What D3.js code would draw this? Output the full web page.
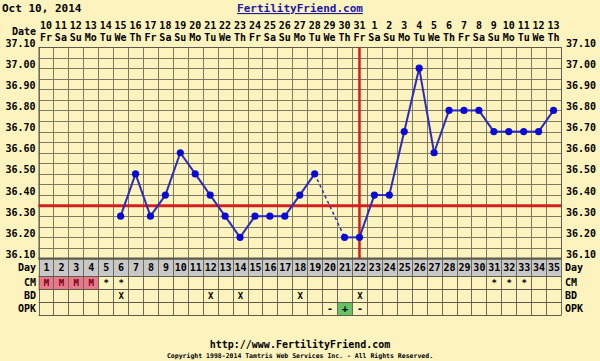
<!DOCTYPE html>
<html><head><meta charset="utf-8">
<script src="https://cdn.jsdelivr.net/npm/d3@7"></script>
<style>
body{margin:0;background:#FDF3BE;}
svg{display:block;}
text{font-family:"DejaVu Sans Mono",monospace;font-weight:bold;}
</style></head><body>
<script>
const dayNums = ["10","11","12","13","14","15","16","17","18","19","20","21","22","23","24","25","26","27","28","29","30","31","1","2","3","4","5","6","7","8","9","10","11","12","13"];
const weekdays = ["Fr","Sa","Su","Mo","Tu","We","Th","Fr","Sa","Su","Mo","Tu","We","Th","Fr","Sa","Su","Mo","Tu","We","Th","Fr","Sa","Su","Mo","Tu","We","Th","Fr","Sa","Su","Mo","Tu","We","Th"];
const cycleDays = d3.range(1, 36);
// temperatures by cycle day (null = not recorded)
const temps = [null,null,null,null,null,36.30,36.50,36.30,36.40,36.60,36.50,36.40,36.30,36.20,36.30,36.30,36.30,36.40,36.50,null,36.20,36.20,36.40,36.40,36.70,37.00,36.60,36.80,36.80,36.80,36.70,36.70,36.70,36.70,36.80];
const yTicks = [37.10,37.00,36.90,36.80,36.70,36.60,36.50,36.40,36.30,36.20,36.10];
const coverLine = 36.35;
const ovulationDay = 22;
const cmMarks = {1:"M",2:"M",3:"M",4:"M",5:"*",6:"*",31:"*",32:"*",33:"*"};
const bdMarks = {6:"X",12:"X",14:"X",18:"X",22:"X"};
const opkMarks = {20:"-",21:"+",22:"-"};

const W = 600, H = 361;
const svg = d3.select("body").append("svg").attr("width", W).attr("height", H);
const gx0 = 38.5, gx1 = 561, gy0 = 47, gy1 = 258.5;
const x = d3.scaleBand().domain(cycleDays).range([gx0, gx1]).padding(0);
const y = d3.scaleLinear().domain([36.10, 37.10]).range([gy1, gy0]);
const cx = d => x(d) + x.bandwidth() / 2;
const gridCol = "#7f7a62";

// header
svg.append("text").attr("x", 2).attr("y", 12).attr("font-size", 11).attr("fill", "#000").text("Oct 10, 2014");
svg.append("text").attr("x", 300).attr("y", 12).attr("font-size", 11).attr("fill", "#1a1aa6").attr("text-anchor", "middle").attr("text-decoration", "underline").text("FertilityFriend.com");

// date labels
svg.append("text").attr("x", 36).attr("y", 35).attr("font-size", 10).attr("text-anchor", "end").text("Date");
svg.selectAll(".dn").data(cycleDays).join("text").attr("x", d => cx(d)).attr("y", 29).attr("font-size", 10).attr("text-anchor", "middle").text((d, i) => dayNums[i]);
svg.selectAll(".wd").data(cycleDays).join("text").attr("x", d => cx(d)).attr("y", 41).attr("font-size", 10).attr("text-anchor", "middle").text((d, i) => weekdays[i]);

// grid
const minor = d3.range(0, 21).map(i => 36.10 + i * 0.05);
svg.selectAll(".hl").data(minor).join("line")
  .attr("x1", gx0).attr("x2", gx1).attr("y1", d => Math.round(y(d)) + 0.5).attr("y2", d => Math.round(y(d)) + 0.5)
  .attr("stroke", gridCol).attr("stroke-width", 1);
svg.selectAll(".vl").data(cycleDays.concat([36])).join("line")
  .attr("x1", d => Math.round(d === 36 ? gx1 : x(d)) + 0.5).attr("x2", d => Math.round(d === 36 ? gx1 : x(d)) + 0.5)
  .attr("y1", gy0).attr("y2", 315)
  .attr("stroke", gridCol).attr("stroke-width", 1);

// y tick labels
const yAxisL = d3.axisLeft(y).tickValues(yTicks).tickFormat(d3.format(".2f")).tickSize(0).tickPadding(3);
const yAxisR = d3.axisRight(y).tickValues(yTicks).tickFormat(d3.format(".2f")).tickSize(0).tickPadding(5);
const gl = svg.append("g").attr("transform", `translate(${gx0},0)`).call(yAxisL);
const gr = svg.append("g").attr("transform", `translate(${gx1},0)`).call(yAxisR);
[gl, gr].forEach(g => {
  g.select(".domain").remove();
  g.selectAll("text").attr("font-size", 10).attr("fill", "#000").attr("font-family", "DejaVu Sans Mono").attr("font-weight", "bold").attr("dy", "-0.1em");
});

// bottom rows
const rows = [
  {name: "Day", y0: 258.5, y1: 276, fill: "#c8c8c8"},
  {name: "CM", y0: 276, y1: 289, fill: null},
  {name: "BD", y0: 289, y1: 302, fill: null},
  {name: "OPK", y0: 302, y1: 315, fill: null}
];
svg.append("rect").attr("x", gx0).attr("y", rows[0].y0).attr("width", gx1 - gx0).attr("height", rows[0].y1 - rows[0].y0).attr("fill", "#c8c8c8");
// colored cells
svg.selectAll(".cmc").data(cycleDays.filter(d => cmMarks[d] === "M")).join("rect")
  .attr("x", d => x(d)).attr("y", rows[1].y0).attr("width", x.bandwidth()).attr("height", rows[1].y1 - rows[1].y0).attr("fill", "#e8788a");
svg.selectAll(".opc").data(cycleDays.filter(d => opkMarks[d] === "+")).join("rect")
  .attr("x", d => x(d)).attr("y", rows[3].y0).attr("width", x.bandwidth()).attr("height", rows[3].y1 - rows[3].y0).attr("fill", "#66c266");
// redraw vertical lines over cells
svg.selectAll(".vl2").data(cycleDays.concat([36])).join("line")
  .attr("x1", d => Math.round(d === 36 ? gx1 : x(d)) + 0.5).attr("x2", d => Math.round(d === 36 ? gx1 : x(d)) + 0.5)
  .attr("y1", 258.5).attr("y2", 315)
  .attr("stroke", "#6f6a58").attr("stroke-width", 1);
[258.5, 276.5, 289.5, 302.5, 315.5].forEach(v => {
  svg.append("line").attr("x1", gx0).attr("x2", gx1 + 0.5).attr("y1", v).attr("y2", v).attr("stroke", "#5f5a4a").attr("stroke-width", v === 258.5 ? 2 : 1);
});
rows.forEach(r => {
  const my = (r.y0 + r.y1) / 2 + 3.5;
  svg.append("text").attr("x", 36).attr("y", my).attr("font-size", 10).attr("text-anchor", "end").text(r.name);
  svg.append("text").attr("x", 565).attr("y", my).attr("font-size", 10).text(r.name);
});
svg.selectAll(".dayn").data(cycleDays).join("text").attr("x", d => cx(d) + 0.5).attr("y", (rows[0].y0 + rows[0].y1) / 2 + 3.5).attr("font-size", 10).attr("text-anchor", "middle").text(d => d);
svg.selectAll(".cm").data(cycleDays.filter(d => cmMarks[d])).join("text").attr("x", d => cx(d) + 0.5).attr("y", (rows[1].y0 + rows[1].y1) / 2 + 3.5).attr("font-size", 9).attr("text-anchor", "middle").attr("fill", d => cmMarks[d] === "M" ? "#700010" : "#000").text(d => cmMarks[d]);
svg.selectAll(".bd").data(cycleDays.filter(d => bdMarks[d])).join("text").attr("x", d => cx(d) + 0.5).attr("y", (rows[2].y0 + rows[2].y1) / 2 + 3.5).attr("font-size", 9).attr("font-weight", "normal").attr("text-anchor", "middle").text(d => bdMarks[d]);
svg.selectAll(".opk").data(cycleDays.filter(d => opkMarks[d])).join("text").attr("x", d => cx(d) + 0.5).attr("y", (rows[3].y0 + rows[3].y1) / 2 + 3.5).attr("font-size", 10).attr("text-anchor", "middle").text(d => opkMarks[d]);

// outer border of chart grid
svg.append("rect").attr("x", gx0 + 0.5).attr("y", gy0 + 0.5).attr("width", gx1 - gx0).attr("height", gy1 - gy0).attr("fill", "none").attr("stroke", "#5f5a4a").attr("stroke-width", 1);

// cover line & ovulation line
svg.append("line").attr("x1", gx0).attr("x2", gx1).attr("y1", y(coverLine)).attr("y2", y(coverLine)).attr("stroke", "#d02020").attr("stroke-width", 3);
svg.append("line").attr("x1", cx(ovulationDay)).attr("x2", cx(ovulationDay)).attr("y1", gy0).attr("y2", gy1).attr("stroke", "#d02020").attr("stroke-width", 2.5);

// temperature line
const pts = cycleDays.map((d, i) => ({d, t: temps[i]})).filter(p => p.t !== null);
const segs = [];
for (let i = 1; i < pts.length; i++) segs.push({a: pts[i - 1], b: pts[i], gap: pts[i].d - pts[i - 1].d > 1});
svg.selectAll(".seg").data(segs).join("line")
  .attr("x1", s => cx(s.a.d)).attr("y1", s => y(s.a.t)).attr("x2", s => cx(s.b.d)).attr("y2", s => y(s.b.t))
  .attr("stroke", "#2c2cb8").attr("stroke-width", s => s.gap ? 1.5 : 2).attr("stroke-dasharray", s => s.gap ? "3,3" : null);
svg.selectAll(".dot").data(pts).join("circle").attr("cx", p => cx(p.d)).attr("cy", p => y(p.t)).attr("r", 3.6).attr("fill", "#0a0ad8");

// footer
svg.append("text").attr("x", 300).attr("y", 348).attr("font-size", 10).attr("text-anchor", "middle").text("http://www.FertilityFriend.com");
svg.append("text").attr("x", 300).attr("y", 358).attr("font-size", 6.5).attr("font-weight", "normal").attr("text-anchor", "middle").text("Copyright 1998-2014 Tamtris Web Services Inc. - All Rights Reserved.");
</script>
</body></html>
